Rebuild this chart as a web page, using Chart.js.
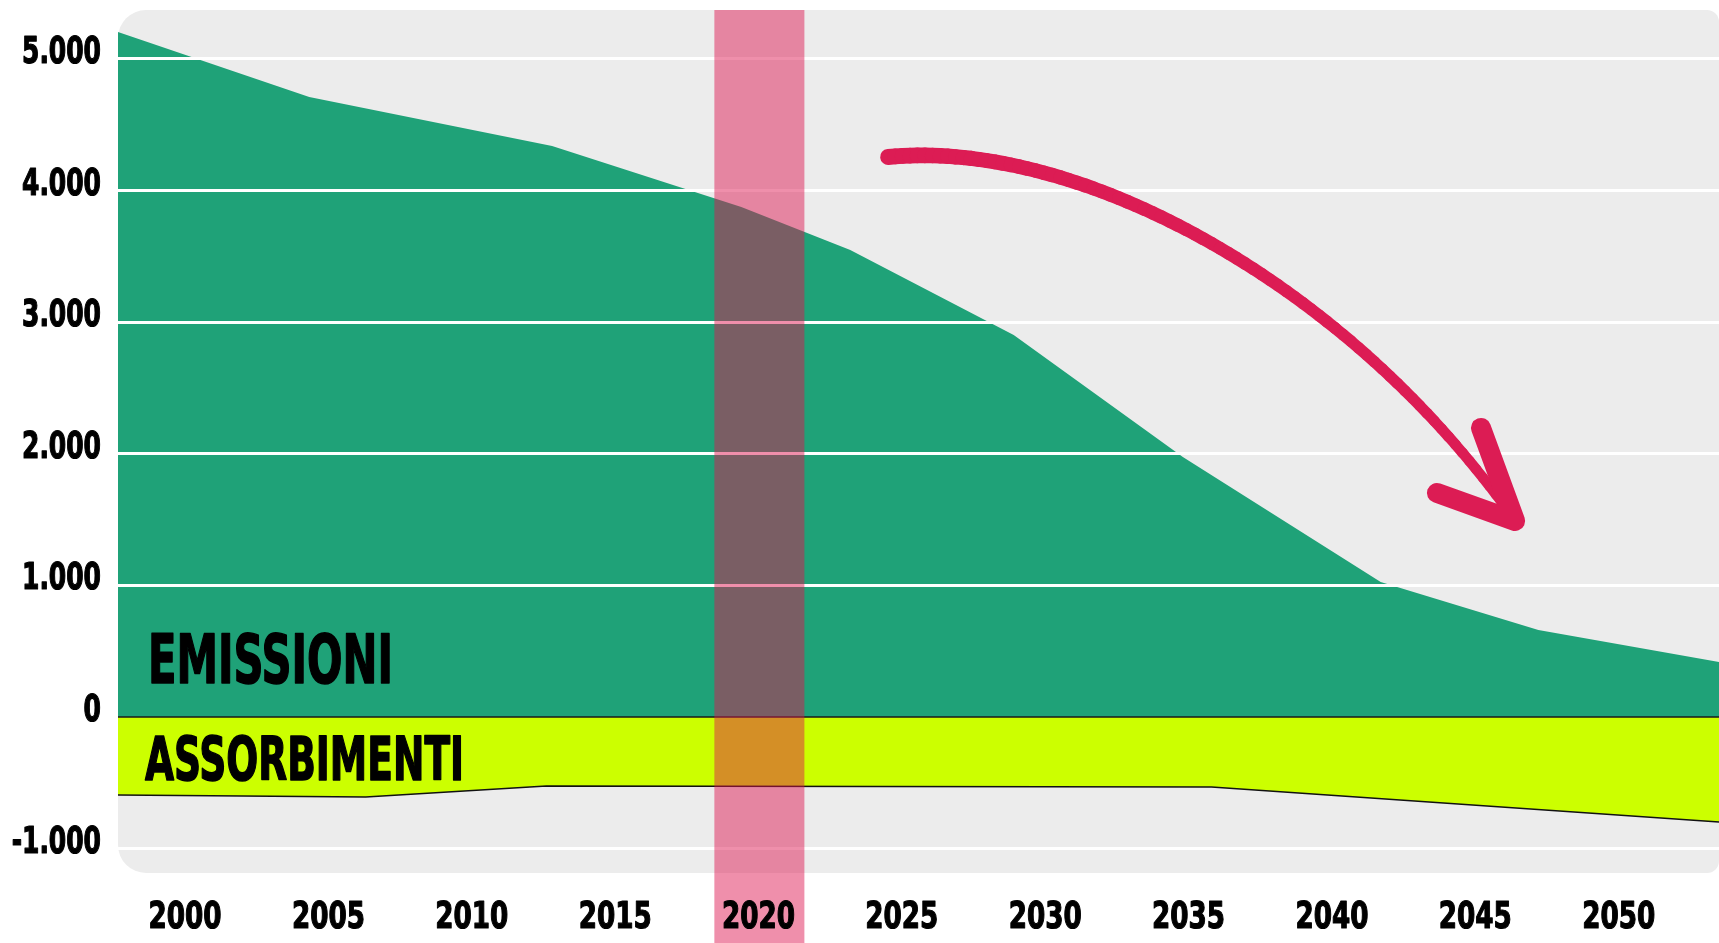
<!DOCTYPE html>
<html>
<head>
<meta charset="utf-8">
<script src="https://cdn.jsdelivr.net/npm/chart.js@4.4.1/dist/chart.umd.min.js"></script>
<style>
  html, body { margin: 0; padding: 0; background: #fff; }
</style>
</head>
<body>
<canvas id="chart" width="1719" height="943"></canvas>
<script>
// valori (milioni di t CO2eq)
const emissionYears  = [1997.66, 2004.33, 2012.8, 2019.4, 2023.2, 2028.9, 2034.8, 2041.7, 2047.2, 2053.5];
const emissionValues = [5205, 4711, 4339, 3875, 3549, 2903, 1976, 1026, 661, 418];

const absorptionYears  = [1997.66, 2006.3, 2012.6, 2035.8, 2053.5];
const absorptionValues = [-593, -608, -524, -532, -798];

const yearTicks  = [2000, 2005, 2010, 2015, 2020, 2025, 2030, 2035, 2040, 2045, 2050];
const valueTicks = [-1000, 0, 1000, 2000, 3000, 4000, 5000];

// fascia evidenziata intorno al 2020
const highlight = [2018.46, 2021.6];

// freccia (in coordinate dei dati)
const arrowCurve = [[2024.52, 4255], [2031.21, 4399], [2040.63, 3282], [2046.39, 1489]];
const arrowHead  = [[2045.2, 2196], [2046.39, 1489], [2043.66, 1702]];

const xMin = 1997.66, xMax = 2053.5;
const yMin = -1186, yMax = 5372;

const FONT = "'Liberation Sans Narrow', 'DejaVu Sans Condensed', sans-serif";
const GREEN = '#1fa278';
const YELLOW = '#ccff00';
const RED = '#dc1c54';

function itNumber(v) {
  const s = Math.abs(v).toString().replace(/\B(?=(\d{3})+(?!\d))/g, '.');
  return v < 0 ? '-' + s : s;
}

// testo condensato: compressione orizzontale
function drawSqueezed(ctx, text, x, baseline, sx, align) {
  ctx.save();
  ctx.translate(x, baseline);
  ctx.scale(sx, 1);
  ctx.textAlign = align || 'left';
  ctx.textBaseline = 'alphabetic';
  ctx.fillText(text, 0, 0);
  ctx.strokeText(text, 0, 0);
  ctx.restore();
}

function drawFitted(ctx, text, x, baseline, size, width) {
  ctx.save();
  ctx.font = 'bold ' + size + 'px ' + FONT;
  ctx.fillStyle = '#000';
  ctx.strokeStyle = '#000';
  ctx.lineWidth = 1.5;
  ctx.lineJoin = 'round';
  const w = ctx.measureText(text).width;
  drawSqueezed(ctx, text, x, baseline, width / w);
  ctx.restore();
}

const plotBackground = {
  id: 'plotBackground',
  beforeDraw(chart) {
    const { ctx, chartArea: a } = chart;
    ctx.save();
    ctx.fillStyle = '#ececec';
    ctx.beginPath();
    ctx.roundRect(a.left, a.top, a.right - a.left, a.bottom - a.top, [28, 12, 12, 28]);
    ctx.fill();
    ctx.restore();
  }
};

// sopra la griglia, sotto le etichette
const band2020 = {
  id: 'band2020',
  afterDraw(chart) {
    const { ctx, chartArea: a } = chart;
    const xs = chart.scales.x;
    const x0 = xs.getPixelForValue(highlight[0]);
    const x1 = xs.getPixelForValue(highlight[1]);
    ctx.save();
    ctx.fillStyle = 'rgba(222, 20, 80, 0.48)';
    ctx.fillRect(x0, a.top, x1 - x0, chart.height - a.top);
    ctx.restore();
  }
};

const overlay = {
  id: 'overlay',
  afterDraw(chart) {
    const { ctx, chartArea: a } = chart;
    const xs = chart.scales.x, ys = chart.scales.y;
    const y0 = ys.getPixelForValue(0);

    // etichette degli assi
    ctx.save();
    ctx.fillStyle = '#000';
    ctx.strokeStyle = '#000';
    ctx.lineWidth = 1.2;
    ctx.lineJoin = 'round';
    ctx.font = 'bold 37px ' + FONT;
    const sy = 79 / ctx.measureText('5.000').width;
    ys.ticks.forEach(t => {
      drawSqueezed(ctx, itNumber(t.value), ys.right - 17, ys.getPixelForValue(t.value) + 4, sy, 'right');
    });
    ctx.font = 'bold 38px ' + FONT;
    const sx = 73 / ctx.measureText('2000').width;
    xs.ticks.forEach(t => {
      drawSqueezed(ctx, String(t.value), xs.getPixelForValue(t.value), xs.top + 55, sx, 'center');
    });
    ctx.restore();

    drawFitted(ctx, 'EMISSIONI', a.left + 30, y0 - 34, 67, 245);
    drawFitted(ctx, 'ASSORBIMENTI', a.left + 27, y0 + 63, 60, 319);

    // freccia
    const p = arrowCurve.map(q => [xs.getPixelForValue(q[0]), ys.getPixelForValue(q[1])]);
    const pt = t => {
      const u = 1 - t;
      return [
        u*u*u*p[0][0] + 3*u*u*t*p[1][0] + 3*u*t*t*p[2][0] + t*t*t*p[3][0],
        u*u*u*p[0][1] + 3*u*u*t*p[1][1] + 3*u*t*t*p[2][1] + t*t*t*p[3][1]
      ];
    };
    ctx.save();
    ctx.strokeStyle = RED;
    ctx.lineCap = 'round';
    ctx.lineJoin = 'round';
    const n = 80;
    let prev = pt(0);
    for (let i = 1; i <= n; i++) {
      const t = i / n;
      const cur = pt(t);
      ctx.lineWidth = 16 - 6 * t;
      ctx.beginPath();
      ctx.moveTo(prev[0], prev[1]);
      ctx.lineTo(cur[0], cur[1]);
      ctx.stroke();
      prev = cur;
    }
    const h = arrowHead.map(q => [xs.getPixelForValue(q[0]), ys.getPixelForValue(q[1])]);
    ctx.lineWidth = 20;
    ctx.beginPath();
    ctx.moveTo(h[0][0], h[0][1]);
    ctx.lineTo(h[1][0], h[1][1]);
    ctx.lineTo(h[2][0], h[2][1]);
    ctx.stroke();
    ctx.restore();
  }
};

new Chart(document.getElementById('chart').getContext('2d'), {
  type: 'line',
  data: {
    datasets: [
      {
        label: 'zero',
        data: [{ x: xMin, y: 0 }, { x: xMax, y: 0 }],
        borderColor: '#1a1a1a',
        borderWidth: 1.5,
        pointRadius: 0,
        fill: false
      },
      {
        label: 'Assorbimenti',
        data: absorptionYears.map((x, i) => ({ x, y: absorptionValues[i] })),
        borderColor: '#111',
        borderWidth: 1.5,
        backgroundColor: YELLOW,
        fill: 'origin',
        pointRadius: 0
      },
      {
        label: 'Emissioni',
        data: emissionYears.map((x, i) => ({ x, y: emissionValues[i] })),
        borderWidth: 0,
        borderColor: GREEN,
        backgroundColor: GREEN,
        fill: 'origin',
        pointRadius: 0
      }
    ]
  },
  options: {
    responsive: false,
    animation: false,
    layout: { padding: { top: 10, left: 0, right: 0, bottom: 0 } },
    plugins: { legend: { display: false }, tooltip: { enabled: false } },
    scales: {
      x: {
        type: 'linear',
        min: xMin,
        max: xMax,
        afterBuildTicks: s => { s.ticks = yearTicks.map(v => ({ value: v })); },
        afterFit: s => { s.height = 70; },
        grid: { display: false },
        border: { display: false },
        ticks: { display: false }
      },
      y: {
        min: yMin,
        max: yMax,
        afterBuildTicks: s => { s.ticks = valueTicks.map(v => ({ value: v })); },
        afterFit: s => { s.width = 118; },
        grid: {
          z: 1,
          drawTicks: false,
          lineWidth: 3,
          color: c => (c.tick && c.tick.value === 0) ? 'rgba(0,0,0,0)' : '#ffffff'
        },
        border: { display: false },
        ticks: { display: false }
      }
    }
  },
  plugins: [plotBackground, band2020, overlay]
});
</script>
</body>
</html>
